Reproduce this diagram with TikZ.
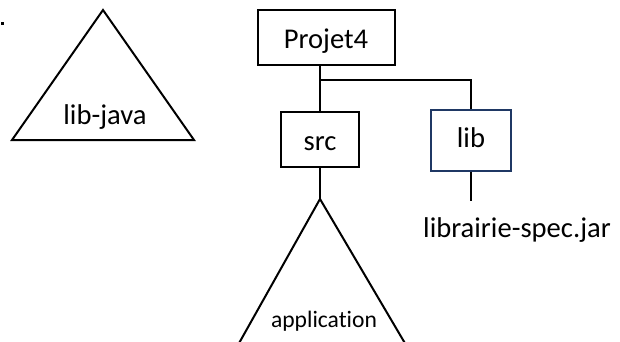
\documentclass[tikz,border=0pt]{standalone}
\usepackage{fontspec}
\setmainfont{Carlito}[Ligatures=NoCommon]
\usetikzlibrary{positioning}
\definecolor{libblue}{RGB}{31,56,100}

\begin{document}
\begin{tikzpicture}[
    x=0.5pt, y=-0.5pt,
    line width=1pt,
    box/.style={draw, minimum height=27.5pt, inner sep=0pt, text height=11pt, text depth=0pt, font=\fontsize{14.3}{17}\selectfont},
    caption/.style={anchor=base, inner sep=0pt, font=\fontsize{14.3}{17}\selectfont},
    small/.style={anchor=base, inner sep=0pt, font=\fontsize{11.8}{14}\selectfont},
]
    \useasboundingbox (0,0) rectangle (620,342);
    \fill (0.5,22.5) rectangle (3.5,25.5);

    % separate library
    \coordinate (java top) at (103,10);
    \draw (java top) -- (194,140) -- (12,140) -- cycle;
    \node[caption] (java) at (105,125) {lib-java};

    % project tree
    \node[box, minimum width=68.5pt] (projet) at (326,38) {Projet4};
    \node[box, minimum width=39pt] (src) at (320,139) {src};
    \node[box, draw=libblue, minimum width=40pt, minimum height=30.5pt, text depth=3pt] (lib) at (471,140) {lib};
    \node[caption] (jar) at (517,237) {librairie-spec.jar};

    \coordinate (fork) at (320,80);
    \coordinate (jar top) at (471,201);
    \coordinate (app top) at (320,199);

    \draw (projet.south -| src.north) -- (src.north);
    \draw (fork) -| (lib.north);
    \draw (lib.south) -- (jar top);
    \draw (src.south) -- (app top);

    % application subtree, cut by the page bottom
    \draw (238,345) -- (app top) -- (406,345);
    \node[small] (app) at (324,327) {application};
\end{tikzpicture}
\end{document}
